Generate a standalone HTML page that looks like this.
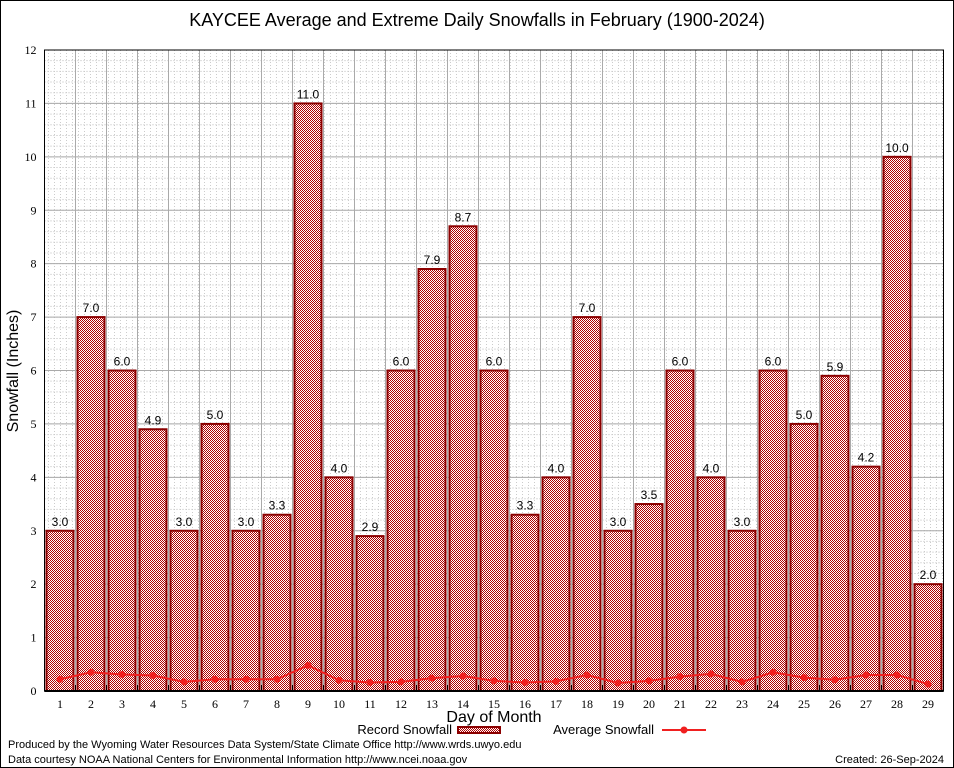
<!DOCTYPE html>
<html><head><meta charset="utf-8"><style>
body{margin:0;background:#fff}
svg{display:block;font-family:"Liberation Sans",sans-serif}
</style></head><body>
<svg id="chart" width="954" height="768">
<defs>
<pattern id="chk" width="2" height="2" patternUnits="userSpaceOnUse">
<rect width="2" height="2" fill="#fff"/><rect width="1" height="1" fill="#b00000"/><rect x="1" y="1" width="1" height="1" fill="#b00000"/>
</pattern>
</defs>
<rect x="0.5" y="0.5" width="953" height="767" fill="#fff" stroke="#000"/>
<text x="477" y="26" font-size="18" text-anchor="middle">KAYCEE Average and Extreme Daily Snowfalls in February (1900-2024)</text>
<g id="grid"></g>
<g id="bars"></g>
<g id="avg"></g>
<g id="axes"></g>
<text transform="translate(18,371) rotate(-90)" font-size="16" text-anchor="middle">Snowfall (Inches)</text>
<text x="494" y="722" font-size="16" text-anchor="middle">Day of Month</text>
<g>
<text x="452" y="734" font-size="13" text-anchor="end">Record Snowfall</text>
<rect x="458" y="727" width="42" height="6" fill="url(#chk)" stroke="#8b0000" stroke-width="2"/>
</g>
<g>
<text x="654" y="734" font-size="13" text-anchor="end">Average Snowfall</text>
<line x1="662" y1="730" x2="706" y2="730" stroke="#f02020" stroke-width="2"/>
<circle cx="684" cy="730" r="3.5" fill="#f02020"/>
</g>
<text x="8" y="748" font-size="11">Produced by the Wyoming Water Resources Data System/State Climate Office http://www.wrds.uwyo.edu</text>
<text x="8" y="763" font-size="11">Data courtesy NOAA National Centers for Environmental Information http://www.ncei.noaa.gov</text>
<text x="944" y="763" font-size="11" text-anchor="end">Created: 26-Sep-2024</text>
</svg>
<script>
const days=[1,2,3,4,5,6,7,8,9,10,11,12,13,14,15,16,17,18,19,20,21,22,23,24,25,26,27,28,29];
const recordValues=[3.0,7.0,6.0,4.9,3.0,5.0,3.0,3.3,11.0,4.0,2.9,6.0,7.9,8.7,6.0,3.3,4.0,7.0,3.0,3.5,6.0,4.0,3.0,6.0,5.0,5.9,4.2,10.0,2.0];
const avgValues=[0.22,0.35,0.31,0.29,0.17,0.22,0.22,0.22,0.48,0.2,0.16,0.17,0.24,0.28,0.19,0.16,0.18,0.3,0.15,0.19,0.27,0.32,0.17,0.35,0.25,0.21,0.3,0.3,0.13];
const yTicks=[0,1,2,3,4,5,6,7,8,9,10,11,12];
const NS="http://www.w3.org/2000/svg";
const L=44.5,R=943.5,T=50,B=691,YMAX=12;
const step=(R-L)/days.length;
const xC=d=>L+step*(d-0.5);
const y=v=>B-(v/YMAX)*(B-T);
function mk(tag,attrs,parent){const e=document.createElementNS(NS,tag);for(const k in attrs)e.setAttribute(k,attrs[k]);parent.appendChild(e);return e;}
const grid=document.getElementById('grid');
mk('rect',{x:L,y:T,width:R-L,height:B-T,fill:'#fff'},grid);
for(let v=0;v<=YMAX+0.01;v+=0.2){mk('line',{x1:L,x2:R,y1:y(v),y2:y(v),stroke:'#bbb','stroke-width':1,'stroke-dasharray':'1,2'},grid);}
for(let x=L+4;x<R;x+=6){mk('line',{x1:x,x2:x,y1:T,y2:B,stroke:'#ccc','stroke-width':1,'stroke-dasharray':'1,2'},grid);}
yTicks.forEach(v=>{const l=mk('line',{x1:L,x2:R,y1:y(v),y2:y(v),stroke:'#aaa','stroke-width':1},grid);

});
days.forEach((d,i)=>{const x=L+step*i;mk('line',{x1:x,x2:x,y1:T,y2:B,stroke:'#aaa','stroke-width':1},grid);});
const bars=document.getElementById('bars');
days.forEach((d,i)=>{const v=recordValues[i];const w=step-4;
const r=mk('rect',{x:xC(d)-w/2,y:y(v),width:w,height:B-y(v),fill:'url(#chk)',stroke:'#8b0000','stroke-width':2},bars);


const t=mk('text',{x:xC(d),y:y(v)-5,'font-size':12,'text-anchor':'middle'},bars);t.textContent=v.toFixed(1);

});
const avg=document.getElementById('avg');
const pts=days.map((d,i)=>xC(d)+','+y(avgValues[i])).join(' ');
const pl=mk('polyline',{points:pts,fill:'none',stroke:'#f02020','stroke-width':2},avg);


days.forEach((d,i)=>{const c=mk('circle',{cx:xC(d),cy:y(avgValues[i]),r:3.5,fill:'#f02020'},avg);

});
const ax=document.getElementById('axes');
mk('rect',{x:L,y:T,width:R-L,height:B-T,fill:'none',stroke:'#000','stroke-width':1},ax);
mk('line',{x1:L,x2:R,y1:B,y2:B,stroke:'#000','stroke-width':2},ax);
yTicks.forEach(v=>{const t=mk('text',{x:L-8,y:y(v)+4,'font-size':12,'text-anchor':'end','font-family':'Liberation Serif,serif'},ax);t.textContent=v;

});
days.forEach((d,i)=>{const x=L+step*i;mk('line',{x1:x,x2:x,y1:B,y2:B-6,stroke:'#000'},ax);
const t=mk('text',{x:xC(d),y:B+17,'font-size':12,'text-anchor':'middle','font-family':'Liberation Serif,serif'},ax);t.textContent=d;

});
</script>
</body></html>
